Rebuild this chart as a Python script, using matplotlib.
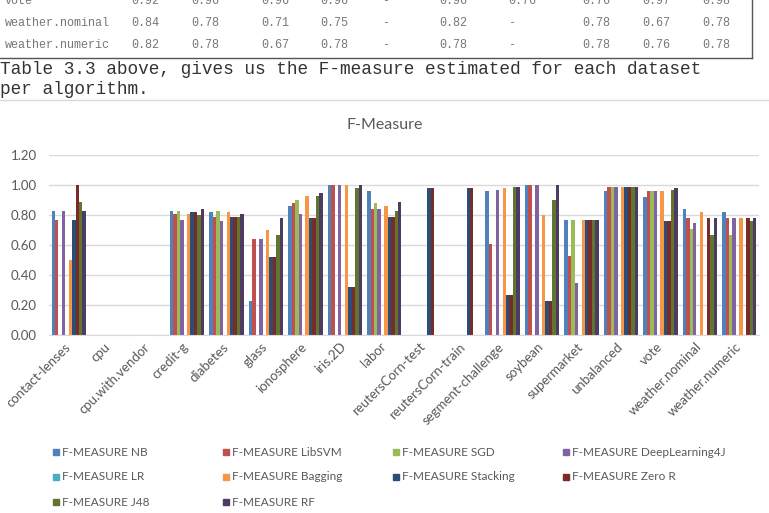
import numpy as np
import matplotlib.pyplot as plt
from matplotlib.patches import Rectangle
from matplotlib.transforms import ScaledTranslation

n = np.nan

datasets = ['contact-lenses', 'cpu', 'cpu.with.vendor', 'credit-g', 'diabetes', 'glass',
            'ionosphere', 'iris.2D', 'labor', 'reutersCorn-test', 'reutersCorn-train',
            'segment-challenge', 'soybean', 'supermarket', 'unbalanced', 'vote',
            'weather.nominal', 'weather.numeric']

nb       = [0.83, n, n, 0.83, 0.82, 0.23, 0.86, 1.00, 0.96, n, n, 0.96, 1.00, 0.77, 0.96, 0.92, 0.84, 0.82]
libsvm   = [0.77, n, n, 0.81, 0.79, 0.64, 0.88, 1.00, 0.84, n, n, 0.61, 1.00, 0.53, 0.99, 0.96, 0.78, 0.78]
sgd      = [n, n, n, 0.83, 0.83, n, 0.90, n, 0.88, n, n, n, n, 0.77, 0.99, 0.96, 0.71, 0.67]
dl4j     = [0.83, n, n, 0.77, 0.76, 0.64, 0.81, 1.00, 0.84, n, n, 0.97, 1.00, 0.35, 0.99, 0.96, 0.75, 0.78]
lr       = [n] * 18
bagging  = [0.50, n, n, 0.81, 0.82, 0.70, 0.93, 1.00, 0.86, n, n, 0.98, 0.80, 0.77, 0.99, 0.96, 0.82, 0.78]
stacking = [0.77, n, n, 0.82, 0.79, 0.52, 0.78, 0.32, 0.79, 0.98, 0.98, 0.27, 0.23, 0.77, 0.99, 0.76, n, n]
zeror    = [1.00, n, n, 0.82, 0.79, 0.52, 0.78, 0.32, 0.79, 0.98, 0.98, 0.27, 0.23, 0.77, 0.99, 0.76, 0.78, 0.78]
j48      = [0.89, n, n, 0.80, 0.79, 0.67, 0.93, 0.98, 0.83, n, n, 0.99, 0.90, 0.77, 0.99, 0.97, 0.67, 0.76]
rf       = [0.83, n, n, 0.84, 0.81, 0.78, 0.95, 1.00, 0.89, n, n, 0.99, 1.00, 0.77, 0.99, 0.98, 0.78, 0.78]

series = [nb, libsvm, sgd, dl4j, lr, bagging, stacking, zeror, j48, rf]
names = ['F-MEASURE NB', 'F-MEASURE LibSVM', 'F-MEASURE SGD', 'F-MEASURE DeepLearning4J',
         'F-MEASURE LR', 'F-MEASURE Bagging', 'F-MEASURE Stacking', 'F-MEASURE Zero R',
         'F-MEASURE J48', 'F-MEASURE RF']
colors = ['#4F81BD', '#C0504D', '#9BBB59', '#8064A2', '#4BACC6',
          '#F79646', '#2C4D75', '#772C2A', '#5F7530', '#4D3B62']

# table fragment above the chart
tab_rows = ['vote', 'weather.nominal', 'weather.numeric']
tab_vals = [['0.92', '0.96', '0.96', '0.96', '-', '0.96', '0.76', '0.76', '0.97', '0.98'],
            ['0.84', '0.78', '0.71', '0.75', '-', '0.82', '-', '0.78', '0.67', '0.78'],
            ['0.82', '0.78', '0.67', '0.78', '-', '0.78', '-', '0.78', '0.76', '0.78']]
caption = ['Table 3.3 above, gives us the F-measure estimated for each dataset',
           'per algorithm.']

W, H = 769, 513
fig = plt.figure(figsize=(W / 100, H / 100), dpi=100)
fig.patch.set_facecolor('white')

def fx(px):
    return px / W

def fy(py):
    return 1 - py / H

mono = 'Liberation Mono'
col_x = [131, 191, 261, 320, 382, 439, 508, 582, 642, 702]
row_y = [1, 23, 45]
for r, name in enumerate(tab_rows):
    fig.text(fx(5), fy(row_y[r]), name, family=mono, size=8.5, color='#777777', va='center')
    for c, v in enumerate(tab_vals[r]):
        fig.text(fx(col_x[c]), fy(row_y[r]), v, family=mono, size=8.5, color='#777777', va='center')

fig.add_artist(plt.Line2D([0, fx(752)], [fy(57.5), fy(57.5)], color='#555555', lw=1))
fig.add_artist(plt.Line2D([fx(752), fx(752)], [fy(0), fy(57.5)], color='#555555', lw=1))

fig.text(fx(0), fy(69), caption[0], family=mono, size=12.8, color='#333333', va='center')
fig.text(fx(0), fy(89), caption[1], family=mono, size=12.8, color='#333333', va='center')
fig.add_artist(plt.Line2D([0, 1], [fy(99.5), fy(99.5)], color='#D9D9D9', lw=1))

# chart
plt.rcParams['font.family'] = ['Lato', 'DejaVu Sans']
ax = fig.add_axes([fx(49), fy(335), fx(759 - 49), (335 - 155) / H])
x = np.arange(len(datasets))
bw = 0.087
for i, s in enumerate(series):
    ax.bar(x + (i - 4.5) * bw, s, width=bw, color=colors[i], label=names[i])

ax.set_xlim(-0.5, len(datasets) - 0.5)
ax.set_ylim(0, 1.2)
ax.set_yticks(np.arange(0, 1.21, 0.2))
ax.set_yticklabels(['%.2f' % v for v in np.arange(0, 1.21, 0.2)])
ax.yaxis.grid(True, color='#D9D9D9', lw=1)
ax.set_axisbelow(True)
for sp in ['top', 'right', 'left']:
    ax.spines[sp].set_visible(False)
ax.spines['bottom'].set_color('#D9D9D9')
ax.tick_params(axis='both', length=0, colors='#595959', labelsize=9.5)
ax.tick_params(axis='y', pad=9)
ax.set_xticks(x)
ax.set_xticklabels(datasets, rotation=45, ha='right', fontsize=9.5)
ax.tick_params(axis='x', pad=4)
shift = ScaledTranslation(4 / 100, 0, fig.dpi_scale_trans)
for lab in ax.get_xticklabels():
    lab.set_transform(lab.get_transform() + shift)

fig.text(fx(385), fy(125), 'F-Measure', size=11.5, color='#595959', ha='center', va='center')

# legend laid out in a fixed grid, row by row
for i, name in enumerate(names):
    r, c = divmod(i, 4)
    lx = 53 + 170 * c
    ly = 452 + 25 * r
    fig.add_artist(Rectangle((fx(lx), fy(ly + 3)), fx(6), 6 / H, color=colors[i],
                             transform=fig.transFigure))
    fig.text(fx(lx + 9), fy(ly), name, size=8.5, color='#595959', va='center')

fig.savefig('out.png', dpi=100)
